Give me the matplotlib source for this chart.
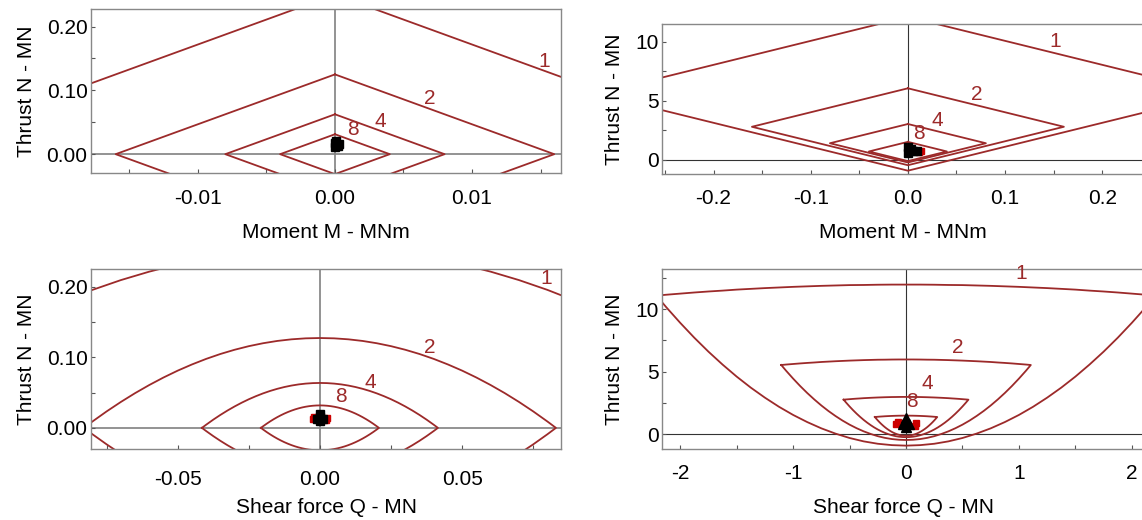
import numpy as np
import matplotlib
matplotlib.use('Agg')
from matplotlib import pyplot as plt
from matplotlib.ticker import MultipleLocator, FormatStrFormatter

plt.rcParams['font.family'] = ['Liberation Sans', 'DejaVu Sans']
plt.rcParams['axes.unicode_minus'] = False

red = '#9c2a2a'
factors = [1, 2, 4, 8]

# M-N envelope, section A (factor 1), diamond vertices
mn_a_m = [0.0, 0.032, 0.0, -0.032, 0.0]
mn_a_n = [0.25, 0.0, -0.25, 0.0, 0.25]

# M-N envelope, section B (factor 1)
mn_b_m = [0.0, 0.321, 0.0, -0.321, 0.0]
mn_b_n = [12.1, 5.58, -0.93, 5.58, 12.1]

# Q-N envelope, section A (factor 1), upper arc; lower arc is mirrored
qn_a_q = [0.0, 0.01, 0.02, 0.03, 0.04, 0.05, 0.06, 0.07, 0.08, 0.09,
          0.10, 0.11, 0.12, 0.13, 0.14, 0.15, 0.16, 0.166]
qn_a_n = [0.255, 0.2541, 0.2513, 0.2467, 0.2402, 0.2319, 0.2217, 0.2097, 0.1958, 0.1800,
          0.1625, 0.1430, 0.1217, 0.0986, 0.0736, 0.0468, 0.0181, 0.0]

# Q-N envelope, section B (factor 1), top and bottom branches
qn_b_q = [0.0, 0.125, 0.25, 0.375, 0.5, 0.625, 0.75, 0.875, 1.0, 1.125,
          1.25, 1.375, 1.5, 1.625, 1.75, 1.875, 2.0, 2.125, 2.21]
qn_b_top = [11.95, 11.95, 11.94, 11.92, 11.91, 11.88, 11.85, 11.81, 11.77, 11.72,
            11.67, 11.61, 11.55, 11.47, 11.40, 11.32, 11.23, 11.14, 11.07]
qn_b_bot = [-0.90, -0.86, -0.75, -0.56, -0.29, 0.06, 0.48, 0.98, 1.55, 2.20,
            2.93, 3.73, 4.61, 5.57, 6.60, 7.71, 8.90, 10.16, 11.07]

# factor label positions
lab_mn_a = ([0.0153, 0.0069, 0.0033, 0.0013], [0.145, 0.087, 0.051, 0.038])
lab_mn_b = ([0.152, 0.071, 0.030, 0.011], [10.0, 5.54, 3.3, 2.24])
lab_qn_a = ([0.0797, 0.0387, 0.0176, 0.0073], [0.212, 0.114, 0.065, 0.044])
lab_qn_b = ([1.016, 0.46, 0.19, 0.055], [12.87, 6.97, 4.04, 2.63])

# load points
pts_a_m = [0.0, 0.0, 0.0002, 0.0003, 0.0001]
pts_a_n = [0.011, 0.017, 0.013, 0.016, 0.020]
pts_b_m = [0.0, 0.0, 0.005, 0.009, 0.003]
pts_b_n = [0.6, 1.1, 0.75, 0.7, 0.9]
pts_b_m_red = [0.013, 0.011]
pts_b_n_red = [0.75, 0.65]
pts_qa_q = [-0.001, 0.0, 0.001, 0.0, 0.0]
pts_qa_n = [0.013, 0.016, 0.013, 0.020, 0.010]
pts_qa_q_red = [-0.0025, 0.0025, -0.002, 0.002]
pts_qa_n_red = [0.012, 0.014, 0.016, 0.011]
pts_qb_q = [-0.03, 0.0, 0.03, 0.0, 0.0]
pts_qb_n = [0.8, 1.0, 0.8, 1.3, 0.6]
pts_qb_q_red = [-0.09, 0.09, -0.07, 0.08]
pts_qb_n_red = [0.8, 0.9, 1.0, 0.65]

fig = plt.figure(figsize=(11.42, 5.2), dpi=100)
ax1 = fig.add_axes([0.0797, 0.6667, 0.4116, 0.3154])
ax2 = fig.add_axes([0.5797, 0.6654, 0.4221, 0.2885])
ax3 = fig.add_axes([0.0797, 0.1365, 0.4116, 0.3456])
ax4 = fig.add_axes([0.5797, 0.1365, 0.4221, 0.3456])

FS = 15


def style(ax, xlim, ylim, xmaj, xmin, ymaj, ymin, xfmt, yfmt, xlabel, center, xpad):
    ax.set_xlim(*xlim)
    ax.set_ylim(*ylim)
    ax.axhline(0, color=center[0], lw=center[1], zorder=1)
    ax.axvline(0, color=center[0], lw=center[1], zorder=1)
    ax.xaxis.set_major_locator(MultipleLocator(xmaj))
    ax.xaxis.set_minor_locator(MultipleLocator(xmin))
    ax.yaxis.set_major_locator(MultipleLocator(ymaj))
    ax.yaxis.set_minor_locator(MultipleLocator(ymin))
    ax.xaxis.set_major_formatter(FormatStrFormatter(xfmt))
    ax.yaxis.set_major_formatter(FormatStrFormatter(yfmt))
    ax.tick_params(which='both', direction='in', length=3, width=0.8, color='#555555',
                   labelsize=FS, top=False, right=False)
    ax.tick_params(axis='x', which='major', pad=xpad)
    ax.tick_params(axis='y', which='major', pad=2.5)
    for s in ax.spines.values():
        s.set_color('#888888')
        s.set_linewidth(1.0)
    ax.set_xlabel(xlabel, fontsize=FS)
    ax.set_ylabel('Thrust N - MN', fontsize=FS)


def labels(ax, lab):
    for f, x, y in zip(factors, lab[0], lab[1]):
        ax.text(x, y, str(f), color=red, fontsize=FS, ha='center', va='center')


# top left
for f in factors:
    ax1.plot(np.array(mn_a_m) / f, np.array(mn_a_n) / f, color=red, lw=1.3)
ax1.plot(pts_a_m, pts_a_n, 's', color='black', ms=6, zorder=5)
labels(ax1, lab_mn_a)
style(ax1, (-0.0178, 0.0165), (-0.030, 0.227), 0.01, 0.005, 0.1, 0.05,
      '%.2f', '%.2f', 'Moment M - MNm', ('#808080', 1.2), 11)
ax1.yaxis.set_label_coords(-0.118, 0.5)
ax1.xaxis.set_label_coords(0.5, -0.3)

# top right
for f in factors:
    ax2.plot(np.array(mn_b_m) / f, np.array(mn_b_n) / f, color=red, lw=1.3)
ax2.plot(pts_b_m_red, pts_b_n_red, 's', color='#cc0000', ms=5, zorder=5)
ax2.plot(pts_b_m, pts_b_n, 's', color='black', ms=6, zorder=6)
labels(ax2, lab_mn_b)
style(ax2, (-0.253, 0.243), (-1.21, 11.5), 0.1, 0.05, 5, 2.5,
      '%.1f', '%d', 'Moment M - MNm', ('#333333', 0.8), 11)
ax2.yaxis.set_label_coords(-0.078, 0.5)
ax2.xaxis.set_label_coords(0.5, -0.33)

# bottom left
q_full = np.concatenate([-np.array(qn_a_q[::-1]), np.array(qn_a_q[1:])])
n_full = np.concatenate([np.array(qn_a_n[::-1]), np.array(qn_a_n[1:])])
q_lens = np.concatenate([q_full, q_full[::-1]])
n_lens = np.concatenate([n_full, -n_full[::-1]])
for f in factors:
    ax3.plot(q_lens / f, n_lens / f, color=red, lw=1.3)
ax3.plot(pts_qa_q_red, pts_qa_n_red, 's', color='#cc0000', ms=5, zorder=5)
ax3.plot(pts_qa_q, pts_qa_n, 's', color='black', ms=6, zorder=6)
labels(ax3, lab_qn_a)
style(ax3, (-0.0805, 0.0848), (-0.030, 0.225), 0.05, 0.025, 0.1, 0.05,
      '%.2f', '%.2f', 'Shear force Q - MN', ('#808080', 1.2), 15)
ax3.yaxis.set_label_coords(-0.118, 0.5)
ax3.xaxis.set_label_coords(0.5, -0.27)

# bottom right
qb = np.array(qn_b_q)
q_env = np.concatenate([-qb[::-1], qb[1:], qb[::-1], -qb[1:]])
n_env = np.concatenate([np.array(qn_b_top[::-1]), np.array(qn_b_top[1:]),
                        np.array(qn_b_bot[::-1]), np.array(qn_b_bot[1:])])
for f in factors:
    ax4.plot(q_env / f, n_env / f, color=red, lw=1.3)
ax4.plot(pts_qb_q_red, pts_qb_n_red, 's', color='#cc0000', ms=5, zorder=5)
ax4.plot(pts_qb_q, pts_qb_n, '^', color='black', ms=7, zorder=6)
labels(ax4, lab_qn_b)
style(ax4, (-2.161, 2.108), (-1.17, 13.17), 1, 0.5, 5, 2.5,
      '%d', '%d', 'Shear force Q - MN', ('#333333', 0.8), 11)
ax4.yaxis.set_label_coords(-0.078, 0.5)
ax4.xaxis.set_label_coords(0.5, -0.27)

plt.savefig('out.png', dpi=100)
